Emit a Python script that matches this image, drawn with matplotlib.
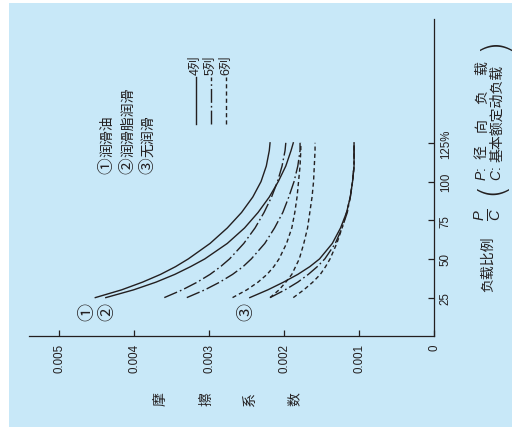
import matplotlib
matplotlib.use('Agg')
import matplotlib.pyplot as plt
from matplotlib.lines import Line2D
from matplotlib.patches import Rectangle

plt.rcParams['font.family'] = ['Liberation Sans', 'Noto Sans CJK SC']
plt.rcParams['mathtext.fontset'] = 'custom'
plt.rcParams['mathtext.it'] = 'Liberation Sans:italic'
plt.rcParams['mathtext.rm'] = 'Liberation Sans'

# load ratio P/C (%) and friction coefficient
loads = [25, 30, 35, 40, 45, 50, 60, 70, 80, 90, 100, 110, 120, 125]

oil_4 = [0.00452, 0.00417, 0.00389, 0.00365, 0.00345, 0.00328, 0.00299, 0.00276, 0.00257, 0.00242, 0.00231, 0.00224, 0.00220, 0.00219]
oil_5 = [0.00360, 0.00336, 0.00316, 0.00299, 0.00285, 0.00273, 0.00254, 0.00239, 0.00227, 0.00217, 0.00209, 0.00203, 0.00199, 0.00198]
oil_6 = [0.00269, 0.00250, 0.00235, 0.00223, 0.00214, 0.00207, 0.00197, 0.00190, 0.00186, 0.00183, 0.00181, 0.00179, 0.00178, 0.00178]

grease_4 = [0.00438, 0.00401, 0.00371, 0.00346, 0.00325, 0.00306, 0.00276, 0.00253, 0.00235, 0.00220, 0.00208, 0.00198, 0.00191, 0.00188]
grease_5 = [0.00330, 0.00306, 0.00286, 0.00269, 0.00255, 0.00244, 0.00226, 0.00213, 0.00202, 0.00194, 0.00187, 0.00182, 0.00179, 0.00179]
grease_6 = [0.00219, 0.00207, 0.00198, 0.00190, 0.00185, 0.00180, 0.00174, 0.00169, 0.00166, 0.00163, 0.00161, 0.00160, 0.00159, 0.00159]

dry_4 = [0.00246, 0.00222, 0.00201, 0.00182, 0.00166, 0.00153, 0.00136, 0.00125, 0.00117, 0.00112, 0.00109, 0.00107, 0.00107, 0.00107]
dry_5 = [0.00219, 0.00199, 0.00182, 0.00168, 0.00156, 0.00146, 0.00132, 0.00123, 0.00116, 0.00112, 0.00109, 0.00107, 0.00107, 0.00107]
dry_6 = [0.00188, 0.00174, 0.00162, 0.00152, 0.00145, 0.00139, 0.00130, 0.00123, 0.00117, 0.00112, 0.00109, 0.00107, 0.00107, 0.00107]

friction_ticks = [0.005, 0.004, 0.003, 0.002, 0.001, 0]
friction_labels = ['0.005', '0.004', '0.003', '0.002', '0.001', '0']
load_ticks = [25, 50, 75, 100, 125]
load_labels = ['25', '50', '75', '100', '125%']

INK = '#231f20'
BG = '#c8e8f8'
styles = {
    '4': '-',
    '5': (0, (10, 2.2, 1.2, 2.2)),
    '6': (0, (3, 2.2)),
}

W, H = 512, 431


def px(x, y):
    # pixel position (from top-left) -> figure fraction
    return x / W, 1 - y / H


fig = plt.figure(figsize=(W / 100, H / 100), dpi=100)
fig.patches.append(Rectangle(px(9, 428), 503 / W, 424 / H, transform=fig.transFigure,
                             facecolor=BG, edgecolor='none', zorder=-10))

ax = fig.add_axes([29.3 / W, 1 - 337.3 / H, 405 / W, 317.3 / H])
ax.set_facecolor('none')
ax.set_zorder(2)

# chart is printed rotated: friction runs right-to-left, load runs upward
for series, rows in [(oil_4, '4'), (oil_5, '5'), (oil_6, '6'),
                     (grease_4, '4'), (grease_5, '5'), (grease_6, '6'),
                     (dry_4, '4'), (dry_5, '5'), (dry_6, '6')]:
    ax.plot(series, loads, color=INK, lw=1.0, linestyle=styles[rows],
            solid_joinstyle='round')

ax.set_xlim(0.0054, 0)
ax.set_ylim(0, 205)
for side in ['left', 'top']:
    ax.spines[side].set_visible(False)
for side in ['right', 'bottom']:
    ax.spines[side].set_color(INK)
    ax.spines[side].set_linewidth(0.9)

ax.yaxis.tick_right()
ax.set_xticks(friction_ticks)
ax.set_xticklabels(friction_labels)
ax.set_yticks(load_ticks)
ax.set_yticklabels(load_labels)
ax.tick_params(axis='x', direction='in', length=4, width=0.9, pad=5,
               labelsize=8.3, labelrotation=90, colors=INK)
ax.tick_params(axis='y', direction='in', length=4, width=0.9, pad=4,
               labelsize=8.3, labelrotation=90, colors=INK)
for lab in ax.get_yticklabels():
    lab.set_va('center')

# circled curve markers
for label, x, y in [('①', 87, 312), ('②', 107, 312), ('③', 246, 312)]:
    fig.text(*px(x, y), label, rotation=90, ha='center', va='center',
             fontsize=13, color=INK, family=['Noto Sans CJK SC'])

# lubrication legend
for label, x in [('①', 107), ('②', 128), ('③', 148)]:
    fig.text(*px(x, 166), label, rotation=90, ha='center', va='center',
             fontsize=12, color=INK, family=['Noto Sans CJK SC'])
for label, x in [('润滑油', 107), ('润滑脂润滑', 128), ('无润滑', 148)]:
    fig.text(*px(x, 157), label, rotation=90, ha='center', va='bottom',
             fontsize=10, color=INK, family=['Noto Sans CJK SC'])

# row-count legend
for rows, x in [('4', 195.7), ('5', 210.7), ('6', 226)]:
    fig.add_artist(Line2D([x / W, x / W], [1 - 125 / H, 1 - 78 / H],
                          transform=fig.transFigure, color=INK, lw=1.0,
                          linestyle=styles[rows]))
    fig.text(*px(x, 75), rows + '列', rotation=90, ha='center', va='bottom',
             fontsize=9, color=INK, family=['Liberation Sans', 'Noto Sans CJK SC'])

# friction axis title, one glyph per slot
for ch, x in [('摩', 162), ('擦', 206), ('系', 250), ('数', 295)]:
    fig.text(*px(x, 399), ch, rotation=90, ha='center', va='center',
             fontsize=10, color=INK, family=['Noto Sans CJK SC'])

# load axis title
fig.text(*px(488, 292), '负载比例', rotation=90, ha='center', va='bottom',
         fontsize=10, color=INK, family=['Noto Sans CJK SC'])
fig.text(*px(488, 215), r'$\frac{P}{C}$', rotation=90, ha='center', va='center',
         fontsize=15, color=INK)
fig.text(*px(491, 188), '(', rotation=90, ha='center', va='center',
         fontsize=25, color=INK, family=['DejaVu Sans'], fontweight='light')
fig.text(*px(494, 44), ')', rotation=90, ha='center', va='center',
         fontsize=25, color=INK, family=['DejaVu Sans'], fontweight='light')
fig.text(*px(482, 174), r'$P$:', rotation=90, ha='center', va='center',
         fontsize=10, color=INK)
fig.text(*px(497, 174), r'$C$:', rotation=90, ha='center', va='center',
         fontsize=10, color=INK)
for ch, y in [('径', 152), ('向', 125), ('负', 97), ('载', 68)]:
    fig.text(*px(482, y), ch, rotation=90, ha='center', va='center',
             fontsize=10, color=INK, family=['Noto Sans CJK SC'])
fig.text(*px(497, 162), '基本额定动负载', rotation=90, ha='center', va='bottom',
         fontsize=10, color=INK, family=['Noto Sans CJK SC'])

fig.savefig('out.png', dpi=100, facecolor='white')
